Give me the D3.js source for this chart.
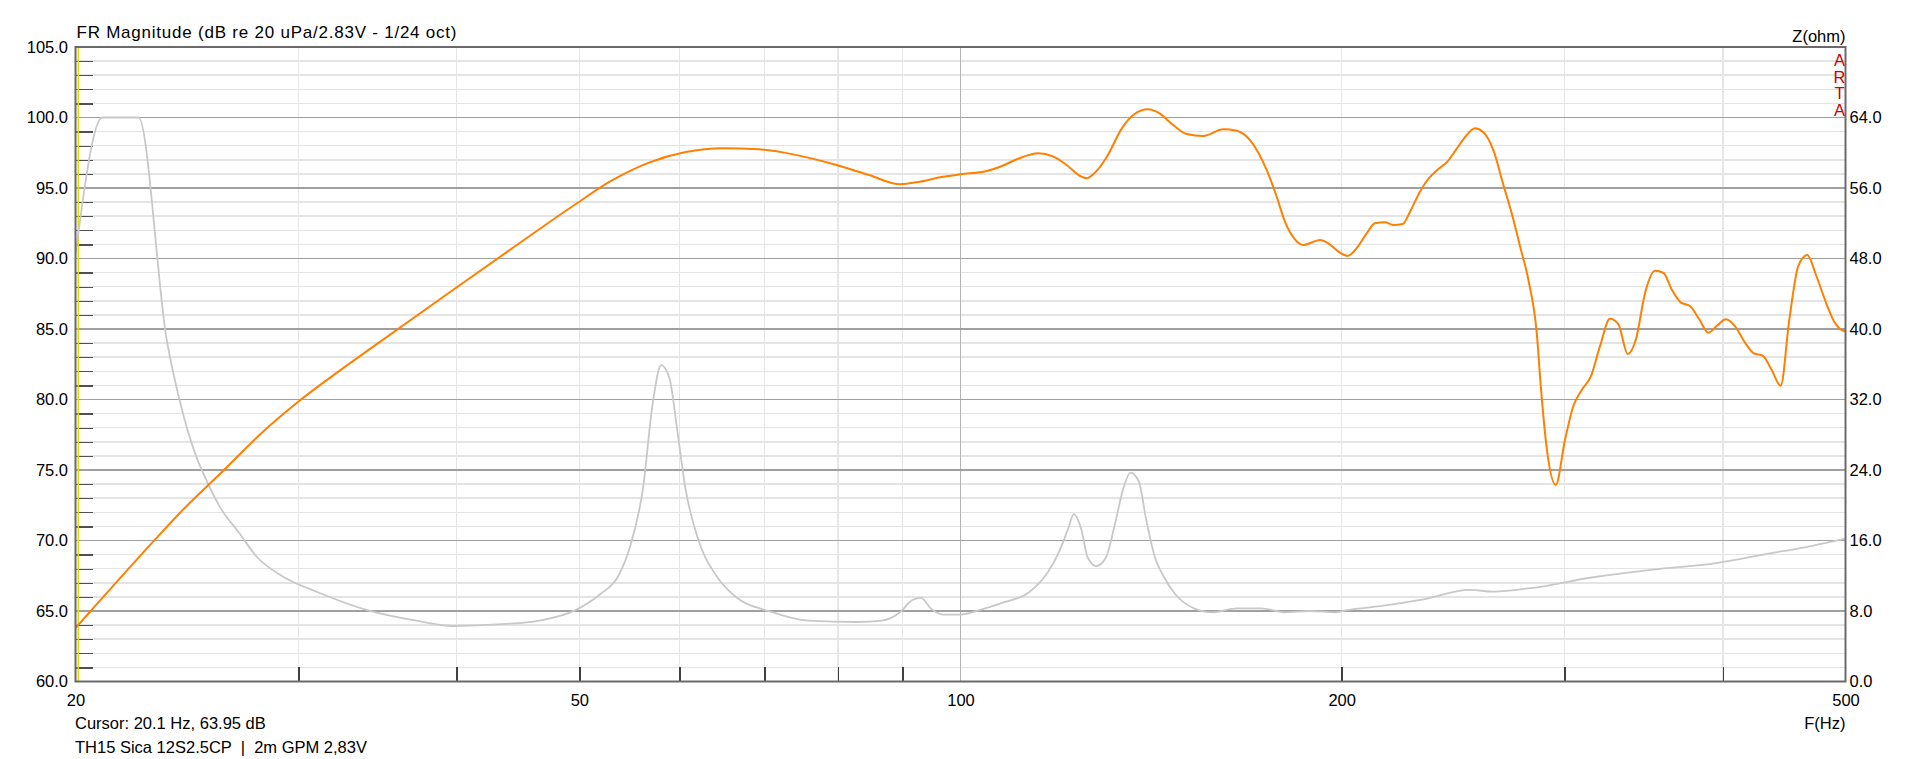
<!DOCTYPE html>
<html><head><meta charset="utf-8">
<script src="https://cdn.jsdelivr.net/npm/d3@7"></script>
<style>
html,body{margin:0;padding:0;background:#fff;}
svg{display:block;font-family:"Liberation Sans",Arial,sans-serif;}
</style></head><body>
<svg id="chart" width="1920" height="759"></svg>
<script>
// ---- data ----
const frFreq = [20, 20.57, 23.1, 24.19, 26.2, 28.0, 29.95, 32.0, 34.0, 38.87, 44.42, 49.65, 53.09, 56.75, 60.67, 64.87, 69.35, 74.1, 79.3, 84.8, 89.6, 92.9, 96.4, 100, 104.9, 107.5, 110.8, 115.2, 118.4, 121.3, 124.3, 125.8, 127.7, 130.5, 134.1, 136.9, 140.7, 143.3, 147.2, 150.9, 155.5, 161.3, 165.2, 169.3, 174.5, 177.7, 180.4, 183.7, 186.5, 192.3, 195.2, 199.4, 202.2, 205.5, 209.3, 212.5, 216.4, 219.7, 223.5, 226.5, 230.6, 234.6, 238.4, 242.4, 246.2, 250.3, 254.9, 258.8, 263.5, 268.4, 272.5, 276.7, 280.9, 285.2, 287.3, 290.1, 295.2, 300.2, 304.8, 309.5, 314.6, 320.0, 325.8, 330.8, 336.5, 341.6, 347.3, 353.6, 359.0, 364.5, 370.7, 376.8, 383.2, 389.6, 395.5, 402.3, 408.9, 416.5, 423.3, 430.1, 437.2, 444.4, 451.4, 458.9, 466.4, 473.9, 481.7, 489.9, 498.0, 500];
const frDb = [63.8, 65.02, 70.04, 71.97, 75.0, 77.55, 79.8, 81.75, 83.45, 87.16, 90.83, 93.85, 95.55, 96.8, 97.55, 97.82, 97.74, 97.35, 96.7, 95.9, 95.26, 95.45, 95.76, 95.97, 96.21, 96.51, 97.04, 97.46, 97.22, 96.63, 95.85, 95.69, 96.09, 97.22, 99.23, 100.18, 100.58, 100.34, 99.47, 98.83, 98.69, 99.16, 99.06, 98.40, 96.28, 94.4, 92.61, 91.36, 90.96, 91.31, 91.08, 90.41, 90.18, 90.72, 91.78, 92.50, 92.57, 92.38, 92.45, 93.32, 94.74, 95.73, 96.33, 96.87, 97.70, 98.60, 99.23, 98.95, 97.70, 95.21, 93.20, 90.84, 88.47, 84.69, 80.91, 76.89, 73.94, 77.13, 79.54, 80.67, 81.62, 83.8, 85.73, 85.35, 83.23, 84.29, 87.57, 89.13, 88.99, 87.81, 86.87, 86.63, 85.69, 84.74, 85.21, 85.69, 85.21, 84.03, 83.27, 83.11, 82.09, 80.98, 85.64, 89.47, 90.25, 88.83, 87.06, 85.52, 84.88, 84.85];
const zFreq = [20, 21.0, 22.43, 23.61, 24.16, 24.9, 25.46, 26.03, 26.92, 27.83, 29.09, 31.11, 34.0, 37.17, 39.74, 43.44, 46.45, 49.65, 51.92, 53.68, 54.88, 56.12, 57.13, 58.02, 58.93, 59.72, 60.66, 62.04, 64.14, 66.32, 70.9, 75.82, 82.88, 86.64, 89.59, 91.62, 93.05, 94.72, 96.86, 100.1, 103.5, 108.3, 113.2, 117.1, 119.7, 121.6, 122.9, 124.6, 126.0, 128.0, 130.3, 132.3, 134.4, 136.2, 138.3, 140.2, 142.4, 144.6, 147.8, 152.9, 158.1, 165.2, 172.8, 180.6, 188.9, 197.5, 202.0, 215.9, 230.8, 252.3, 263.8, 282.1, 315.2, 352.4, 393.9, 430.6, 470.7, 500];
const zOhm = [48.4, 64, 64, 38.75, 32.0, 25.6, 22.4, 19.7, 16.9, 14.1, 12.0, 10.1, 8.1, 6.9, 6.3, 6.5, 6.9, 8.1, 9.9, 12.0, 15.5, 21.8, 31.5, 35.9, 34.3, 28.7, 21.8, 16.2, 12.0, 9.7, 7.9, 6.9, 6.75, 6.9, 7.85, 9.25, 9.5, 8.3, 7.6, 7.6, 8.1, 9.0, 10.1, 12.3, 14.8, 17.3, 19.0, 17.2, 14.1, 13.1, 14.1, 17.6, 21.8, 23.7, 22.7, 18.3, 14.1, 12.0, 9.9, 8.3, 7.85, 8.3, 8.3, 7.85, 8.0, 7.85, 8.1, 8.6, 9.25, 10.4, 10.2, 10.6, 11.8, 12.7, 13.4, 14.4, 15.4, 16.2];
const dbLabelTicks = [60, 65, 70, 75, 80, 85, 90, 95, 100, 105];
const dbMinorTicks = [61,62,63,64,66,67,68,69,71,72,73,74,76,77,78,79,81,82,83,84,86,87,88,89,91,92,93,94,96,97,98,99,101,102,103,104];
const ohmTicks = [0, 8, 16, 24, 32, 40, 48, 56, 64];
const freqLabels = [20, 50, 100, 200, 500];
const freqMinorGrid = [30, 40, 50, 60, 70, 80, 90, 200, 300, 400];
const freqMajorGrid = [100];
const cursorFreq = 20.1;
const titleText = "FR Magnitude (dB re 20 uPa/2.83V - 1/24 oct)";
const cursorText = "Cursor: 20.1 Hz, 63.95 dB";
const infoText = "TH15 Sica 12S2.5CP  |  2m GPM 2,83V";

// ---- layout ----
const L = 75.5, R = 1845.5, T = 47, B = 681.5;
const fs = 16.5;
const svg = d3.select("#chart");
svg.append("rect").attr("width",1920).attr("height",759).attr("fill","#fff");

const x = d3.scaleLog().domain([20, 500]).range([L, R]);
const y = d3.scaleLinear().domain([60, 105]).range([B, T]);
const yZ = d3.scaleLinear().domain([0, 72]).range([B, T]);

const grid = svg.append("g").attr("shape-rendering","crispEdges");
grid.selectAll("line.hmin").data(dbMinorTicks).join("line")
  .attr("x1", L).attr("x2", R).attr("y1", d=>y(d)).attr("y2", d=>y(d))
  .attr("stroke","#e4e4e4").attr("stroke-width",1.5);
grid.selectAll("line.vmin").data(freqMinorGrid).join("line")
  .attr("x1", d=>x(d)).attr("x2", d=>x(d)).attr("y1", T).attr("y2", B)
  .attr("stroke","#e6e6e6").attr("stroke-width",1.5);
grid.selectAll("line.vmaj").data(freqMajorGrid).join("line")
  .attr("x1", d=>x(d)).attr("x2", d=>x(d)).attr("y1", T).attr("y2", B)
  .attr("stroke","#b4b4b4").attr("stroke-width",1.5);
grid.selectAll("line.hmaj").data(dbLabelTicks).join("line")
  .attr("x1", L).attr("x2", R).attr("y1", d=>y(d)).attr("y2", d=>y(d))
  .attr("stroke","#a0a0a0").attr("stroke-width",1.2);

const leftMinor = svg.append("g").attr("transform",`translate(${L},0)`)
  .call(d3.axisLeft(y).tickValues(dbMinorTicks).tickSize(-17).tickFormat(""));
leftMinor.select(".domain").remove();
leftMinor.selectAll("line").attr("stroke","#505050").attr("stroke-width",1.3).attr("shape-rendering","crispEdges");

const botTicks = svg.append("g").attr("transform",`translate(0,${B})`)
  .call(d3.axisBottom(x).tickValues([30,40,50,60,70,80,90,200,300,400]).tickSize(-15).tickFormat(""));
botTicks.select(".domain").remove();
botTicks.selectAll("line").attr("stroke","#404040").attr("stroke-width",1.3).attr("shape-rendering","crispEdges");

svg.append("line").attr("x1",x(cursorFreq)).attr("x2",x(cursorFreq)).attr("y1",T).attr("y2",B)
  .attr("stroke","#dede00").attr("stroke-width",1.5);

svg.append("clipPath").attr("id","pc").append("rect")
  .attr("x",L).attr("y",T).attr("width",R-L).attr("height",B-T);
const lineZ = d3.line().x(d=>x(d[0])).y(d=>yZ(d[1])).curve(d3.curveMonotoneX);
const lineFR = d3.line().x(d=>x(d[0])).y(d=>y(d[1])).curve(d3.curveMonotoneX);
svg.append("path").datum(d3.zip(zFreq, zOhm)).attr("d", lineZ)
  .attr("fill","none").attr("stroke","#c8c8c8").attr("stroke-width",1.8).attr("clip-path","url(#pc)");
svg.append("path").datum(d3.zip(frFreq, frDb)).attr("d", lineFR)
  .attr("fill","none").attr("stroke","#ff8000").attr("stroke-width",2).attr("stroke-linejoin","round").attr("clip-path","url(#pc)");

svg.append("rect").attr("x",L).attr("y",T).attr("width",R-L).attr("height",B-T)
  .attr("fill","none").attr("stroke","#6a6a6a").attr("stroke-width",2);

const ff = "Liberation Sans, Arial, sans-serif";
const leftAx = svg.append("g").attr("transform",`translate(${L},0)`)
  .call(d3.axisLeft(y).tickValues(dbLabelTicks).tickSize(0).tickPadding(7.5).tickFormat(d3.format(".1f")));
leftAx.select(".domain").remove();
leftAx.selectAll("text").attr("font-size",fs).attr("fill","#000").attr("font-family",ff);

const rightAx = svg.append("g").attr("transform",`translate(${R},0)`)
  .call(d3.axisRight(yZ).tickValues(ohmTicks).tickSize(0).tickPadding(4).tickFormat(d3.format(".1f")));
rightAx.select(".domain").remove();
rightAx.selectAll("text").attr("font-size",fs).attr("fill","#000").attr("font-family",ff);

const botAx = svg.append("g").attr("transform",`translate(0,${B})`)
  .call(d3.axisBottom(x).tickValues(freqLabels).tickSize(0).tickPadding(12.5).tickFormat(d3.format("d")));
botAx.select(".domain").remove();
botAx.selectAll("text").attr("font-size",fs).attr("fill","#000").attr("font-family",ff);

svg.append("text").attr("x",76.5).attr("y",38).attr("font-size",17)
  .attr("textLength",380).attr("lengthAdjust","spacing").text(titleText);
svg.append("text").attr("x",R).attr("y",42).attr("font-size",fs).attr("text-anchor","end").text("Z(ohm)");
svg.append("text").attr("x",R).attr("y",729).attr("font-size",fs).attr("text-anchor","end").text("F(Hz)");
svg.append("text").attr("x",75).attr("y",729).attr("font-size",fs).text(cursorText);
svg.append("text").attr("x",75).attr("y",752.5).attr("font-size",fs)
  .attr("xml:space","preserve").style("white-space","pre").text(infoText);
const arta = ["A","R","T","A"];
svg.selectAll("text.arta").data(arta).join("text").attr("class","arta")
  .attr("x",1839.5).attr("y",(d,i)=>65.7+i*16.8).attr("text-anchor","middle")
  .attr("font-size",fs).attr("fill","#cc0000").text(d=>d);
</script>
</body></html>
